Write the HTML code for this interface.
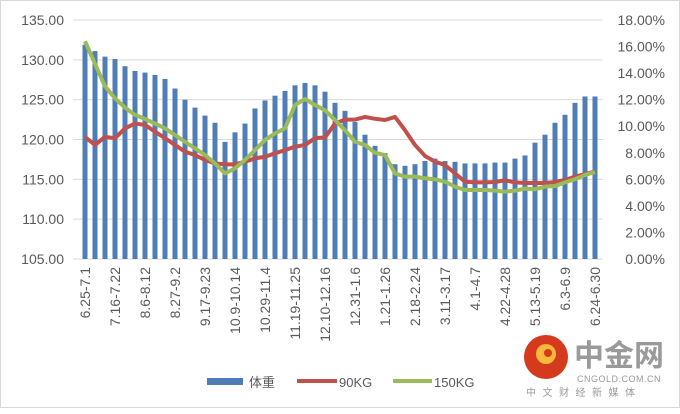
<!DOCTYPE html>
<html><head><meta charset="utf-8"><style>
body{margin:0;background:#fff;}
svg text{font-family:"Liberation Sans","Noto Sans CJK SC",sans-serif;}
</style></head><body>
<svg id="c" width="680" height="409" viewBox="0 0 680 409">
<rect x="0.5" y="0.5" width="679" height="407" fill="#fff" stroke="#d9d9d9"/>
<g id="grid"></g><g id="bars"></g><g id="lines"></g><g id="axes"></g>
<g>
<rect x="207" y="378" width="36" height="7" fill="#4f7db5"/>
<text x="249" y="387" font-size="13" fill="#595959">体重</text>
<line x1="297" y1="381" x2="337" y2="381" stroke="#c0504d" stroke-width="4"/>
<text x="339" y="387" font-size="13" fill="#595959">90KG</text>
<line x1="393" y1="381" x2="432" y2="381" stroke="#9bbb59" stroke-width="4"/>
<text x="434" y="387" font-size="13" fill="#595959">150KG</text>
</g>
<g>
<circle cx="546" cy="357" r="22" fill="#d63a1e"/>
<circle cx="546" cy="354" r="10" fill="#f6b93b"/>
<circle cx="548" cy="353" r="4" fill="#d63a1e"/>
<text x="574" y="366" font-size="30" font-weight="bold" fill="#9a9a9a">中金网</text>
<text x="577" y="382" font-size="9" fill="#9a9a9a" letter-spacing="0.5">CNGOLD.COM.CN</text>
<text x="526" y="396" font-size="10" fill="#9a9a9a" letter-spacing="6.5">中文财经新媒体</text>
</g>
</svg>
<script>
const categories=[];for(let i=0;i<52;i++)categories.push(i);
const tickLabels=["6.25-7.1","7.16-7.22","8.6-8.12","8.27-9.2","9.17-9.23","10.9-10.14","10.29-11.4","11.19-11.25","12.10-12.16","12.31-1.6","1.21-1.26","2.18-2.24","3.11-3.17","4.1-4.7","4.22-4.28","5.13-5.19","6.3-6.9","6.24-6.30"];
const weight=[131.9,131.1,130.4,130.1,129.2,128.6,128.4,128.1,127.6,126.4,125.0,124.0,123.0,122.1,119.7,120.9,122.0,123.9,124.9,125.5,126.1,126.8,127.1,126.8,126.0,124.6,123.6,122.2,120.6,119.2,118.3,116.9,116.7,116.9,117.3,117.6,117.3,117.2,117.0,117.0,117.0,117.1,117.1,117.6,118.0,119.6,120.6,122.1,123.1,124.6,125.4,125.4];
const kg90=[9.19,8.59,9.2,9.1,9.84,10.2,10.1,9.59,9.1,8.59,8.08,7.83,7.46,7.2,7.13,7.13,7.33,7.58,7.7,7.96,8.2,8.46,8.59,9.1,9.15,10.2,10.5,10.5,10.7,10.56,10.47,10.7,9.7,8.59,7.76,7.33,7.08,6.45,5.82,5.77,5.77,5.8,5.93,5.77,5.72,5.72,5.72,5.8,5.95,6.2,6.4,6.58];
const kg150=[16.4,14.7,13.0,12.1,11.4,10.85,10.55,10.2,9.84,9.34,8.83,8.33,7.83,7.2,6.45,6.83,7.46,8.2,8.96,9.46,9.84,11.6,12.05,11.6,11.2,10.47,9.7,8.83,8.59,8.0,7.83,6.45,6.2,6.2,6.08,6.0,5.82,5.45,5.2,5.2,5.2,5.15,5.07,5.15,5.3,5.25,5.45,5.5,5.77,6.0,6.33,6.55];
const leftTicks=[105,110,115,120,125,130,135];
const rightTicks=[0,2,4,6,8,10,12,14,16,18];
const NS="http://www.w3.org/2000/svg";
const plotTop=20,plotBot=259,x0=85,dx=10;
const yL=v=>plotBot-(v-105)/30*(plotBot-plotTop);
const yR=v=>plotBot-v/18*(plotBot-plotTop);
const xC=i=>x0+i*dx;
function mk(p,t,a){const e=document.createElementNS(NS,t);for(const k in a)e.setAttribute(k,a[k]);document.getElementById(p).appendChild(e);return e;}
leftTicks.forEach(v=>{
 const l=mk('grid','line',{x1:73,x2:603,y1:yL(v),y2:yL(v),stroke:'#d9d9d9'});
 
 
 const t=mk('axes','text',{x:64,y:yL(v)+5,'text-anchor':'end','font-size':14,fill:'#595959'});
 t.textContent=v.toFixed(2);
 
 
});
rightTicks.forEach(v=>{
 const t=mk('axes','text',{x:665,y:yR(v)+5,'text-anchor':'end','font-size':14,fill:'#595959'});
 t.textContent=v.toFixed(2)+'%';
 
 
});
weight.forEach((v,i)=>{
 const b=mk('bars','rect',{x:xC(i)-2.5,y:yL(v),width:5,height:plotBot-yL(v),fill:'#4f7db5'});
 
 
});
[[kg90,'#c0504d','line-90kg'],[kg150,'#9bbb59','line-150kg']].forEach(([d,c,n])=>{
 const p=mk('lines','polyline',{points:d.map((v,i)=>xC(i)+','+yR(v)).join(' '),fill:'none',stroke:c,'stroke-width':4,'stroke-linejoin':'round'});
 
 
});
tickLabels.forEach((s,k)=>{
 const x=xC(categories[k*3]);
 const t=mk('axes','text',{x:0,y:0,'text-anchor':'end','font-size':14,fill:'#595959',transform:`translate(${x+5},267) rotate(-90)`});
 t.textContent=s;
 
 
});
</script>
</body></html>
